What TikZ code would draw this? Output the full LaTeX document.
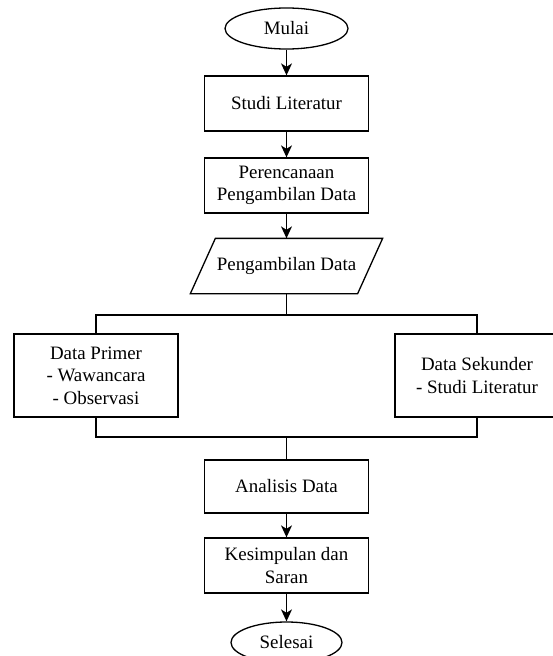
\documentclass[tikz,border=0pt]{standalone}
\usepackage{fontspec}
\setmainfont{Liberation Serif}
\usetikzlibrary{arrows.meta,shapes.geometric}
\begin{document}
\begin{tikzpicture}[x=1bp,y=-1bp,
  line width=1.3bp,
  font=\fontsize{19pt}{22.5pt}\selectfont,
  proc/.style={draw, rectangle, minimum width=164bp, inner sep=0pt, align=center},
  term/.style={draw, ellipse, inner sep=0pt, align=center},
  arr/.style={-{Stealth[length=12bp,width=11bp,inset=3.5bp]}},
]
\useasboundingbox (0,0) rectangle (553,656);
\node[term, minimum width=123bp, minimum height=41bp] (mulai) at (286.5,28.5) {Mulai};
\node[proc, minimum height=55bp] (studi) at (286.5,103.5) {Studi Literatur};
\node[proc, minimum height=55bp] (renc) at (286.5,185.5) {Perencanaan\\Pengambilan Data};
\node[minimum width=166bp, minimum height=54bp, inner sep=0pt] (pd) at (286.5,266) {Pengambilan Data};
\draw ([xshift=12.5bp]pd.north west) -- ([xshift=12.5bp]pd.north east) -- ([xshift=-12.5bp]pd.south east) -- ([xshift=-12.5bp]pd.south west) -- cycle;
\node[proc, minimum height=83bp] (prim) at (96,375.5) {Data Primer\\- Wawancara\\- Observasi};
\node[proc, minimum height=83bp] (sek) at (477,375.5) {Data Sekunder\\- Studi Literatur};
\node[proc, minimum height=53bp] (anal) at (286.5,486.5) {Analisis Data};
\node[proc, minimum height=55bp] (kes) at (286.5,565.5) {Kesimpulan dan\\Saran};
\node[term, minimum width=111bp, minimum height=41bp] (sel) at (286.5,642.5) {Selesai};
\coordinate (j1) at (286.5,315);
\coordinate (j2) at (286.5,437);
\draw[arr] (mulai) -- (studi);
\draw[arr] (studi) -- (renc);
\draw[arr] (renc) -- (pd);
\draw (pd.south) -- (j1);
\draw (prim.north) |- (j1) -| (sek.north);
\draw (prim.south) |- (j2) -| (sek.south);
\draw (j2) -- (anal.north);
\draw[arr] (anal) -- (kes);
\draw[arr] (kes) -- (sel);
\end{tikzpicture}
\end{document}
